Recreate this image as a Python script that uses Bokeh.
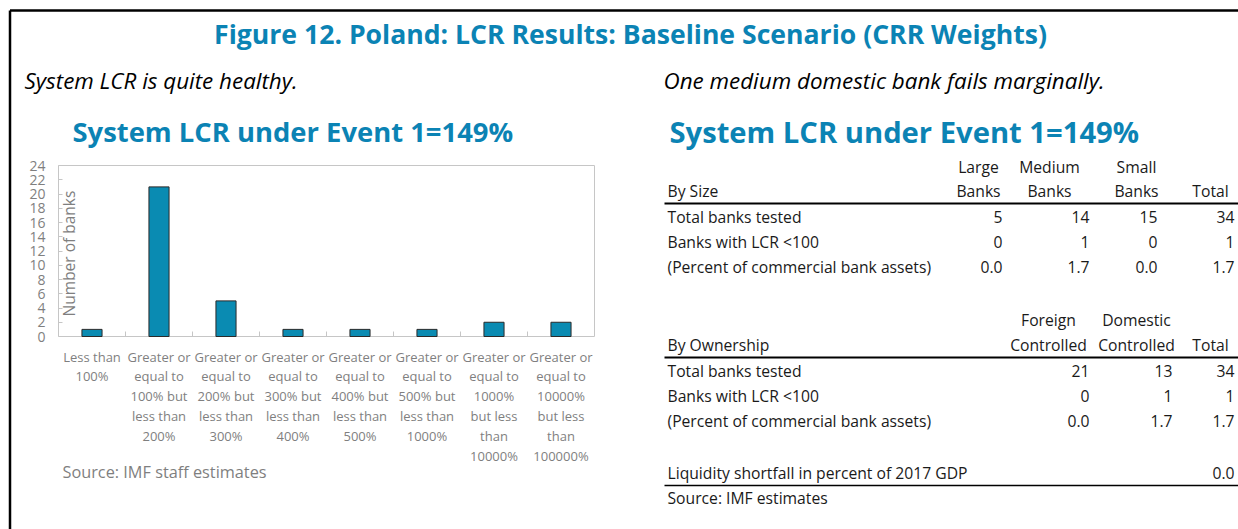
import math
from bokeh.plotting import figure
from bokeh.models import Range1d, LinearAxis, FixedTicker
from bokeh.core.properties import value
from bokeh.embed import file_html
from bokeh.resources import INLINE

# ---------------- data ----------------
categories = [
    "Less than\n100%",
    "Greater or\nequal to\n100% but\nless than\n200%",
    "Greater or\nequal to\n200% but\nless than\n300%",
    "Greater or\nequal to\n300% but\nless than\n400%",
    "Greater or\nequal to\n400% but\nless than\n500%",
    "Greater or\nequal to\n500% but\nless than\n1000%",
    "Greater or\nequal to\n1000%\nbut less\nthan\n10000%",
    "Greater or\nequal to\n10000%\nbut less\nthan\n100000%",
]
bank_counts = [1, 21, 5, 1, 1, 1, 2, 2]
y_ticks = [0, 2, 4, 6, 8, 10, 12, 14, 16, 18, 20, 22, 24]

size_header_top = ["Large", "Medium", "Small", ""]
size_header_bottom = ["Banks", "Banks", "Banks", "Total"]
row_labels = ["Total banks tested", "Banks with LCR <100", "(Percent of commercial bank assets)"]
size_tested = [5, 14, 15, 34]
size_failing = [0, 1, 0, 1]
size_assets_pct = [0.0, 1.7, 0.0, 1.7]

own_header_top = ["Foreign", "Domestic", ""]
own_header_bottom = ["Controlled", "Controlled", "Total"]
own_tested = [21, 13, 34]
own_failing = [0, 1, 1]
own_assets_pct = [0.0, 1.7, 1.7]

shortfall_label = "Liquidity shortfall in percent of 2017 GDP"
shortfall_pct_gdp = 0.0

main_title = "Figure 12. Poland: LCR Results: Baseline Scenario (CRR Weights)"
left_sub = "System LCR is quite healthy."
right_sub = "One medium domestic bank fails marginally."
chart_title = "System LCR under Event 1=149%"

# ---------------- layout (canvas pixels) ----------------
W, H = 1238, 529
BLUE = "#0b83b4"
GRAY = "#7f7f7f"
BLACK = "#1a1a1a"
FONT = "Open Sans"

# bar-chart plot area in canvas pixels
PA_LEFT, PA_RIGHT = 58, 594
PA_TOP, PA_BOTTOM = 165, 336

n = len(categories)
x_lo, x_hi = 0.5, n + 0.5
ppx = (PA_RIGHT - PA_LEFT) / (x_hi - x_lo)
cat_start = x_lo - PA_LEFT / ppx
cat_end = x_hi + (W - PA_RIGHT) / ppx

y_lo, y_hi = y_ticks[0], y_ticks[-1]
ppy = (PA_BOTTOM - PA_TOP) / (y_hi - y_lo)
bar_start = y_lo - (H - PA_BOTTOM) / ppy
bar_end = y_hi + PA_TOP / ppy

p = figure(width=W, height=H, x_range=Range1d(0, W), y_range=Range1d(H, 0),
           output_backend="svg", toolbar_location=None,
           x_axis_location=None, y_axis_location=None, min_border=0)
p.outline_line_color = None
p.xgrid.visible = False
p.ygrid.visible = False
p.background_fill_color = "white"
p.border_fill_color = "white"
p.extra_x_ranges = {"cats": Range1d(cat_start, cat_end)}
p.extra_y_ranges = {"bars": Range1d(bar_start, bar_end)}


def txt(x, y, s, size, color=BLACK, align="left", style="normal",
        baseline="middle", angle=0.0):
    p.text(x=[x], y=[y], text=[s], text_font=value(FONT), text_font_size=size,
           text_color=color, text_align=align, text_baseline=baseline,
           text_font_style=style, angle=angle)


# outer frame (top and left edges)
p.segment(x0=[9.5, 9.5], y0=[10, 10], x1=[W, 9.5], y1=[10, H], line_color="black", line_width=2.5)

# titles
txt(630, 33, main_title, "26.6px", BLUE, align="center", style="bold")
txt(24, 80, left_sub, "22.4px", "black", style="italic")
txt(663, 80, right_sub, "22.4px", "black", style="italic")
txt(72, 131, chart_title, "27.4px", BLUE, style="bold")
txt(669, 131, chart_title, "29.2px", BLUE, style="bold")

# ---------------- bar chart ----------------
positions = list(range(1, n + 1))
p.quad(left=[x_lo], right=[x_hi], bottom=[y_lo], top=[y_hi],
       x_range_name="cats", y_range_name="bars",
       fill_color=None, line_color="#c6c6c6", line_width=1)
p.vbar(x=positions, top=bank_counts, bottom=0, width=0.3,
       x_range_name="cats", y_range_name="bars",
       fill_color="#0a8bb2", line_color="#2a2a2a", line_width=1)

yaxis = LinearAxis(y_range_name="bars", fixed_location=PA_LEFT,
                   ticker=FixedTicker(ticks=y_ticks), bounds=(y_lo, y_hi))
yaxis.axis_line_color = None
yaxis.major_tick_in = 4
yaxis.major_tick_out = 0
yaxis.major_tick_line_color = "#c6c6c6"
yaxis.minor_tick_line_color = None
yaxis.major_label_standoff = 13
yaxis.major_label_text_font = FONT
yaxis.major_label_text_font_size = "14px"
yaxis.major_label_text_color = GRAY
p.add_layout(yaxis, "left")

xaxis = LinearAxis(x_range_name="cats", fixed_location=PA_BOTTOM,
                   ticker=FixedTicker(ticks=positions,
                                      minor_ticks=[i + 0.5 for i in positions[:-1]]),
                   bounds=(x_lo, x_hi))
xaxis.major_label_overrides = {pos: lab for pos, lab in zip(positions, categories)}
xaxis.axis_line_color = None
xaxis.major_tick_in = 0
xaxis.major_tick_out = 0
xaxis.minor_tick_in = 5
xaxis.minor_tick_out = 0
xaxis.minor_tick_line_color = "#c6c6c6"
xaxis.major_label_standoff = 11
xaxis.major_label_text_font = FONT
xaxis.major_label_text_font_size = "13px"
xaxis.major_label_text_color = GRAY
xaxis.major_label_text_line_height = 1.1
p.add_layout(xaxis, "below")

txt(68, 253, "Number of banks", "15.5px", GRAY, align="center", angle=math.pi / 2)
txt(62, 471, "Source: IMF staff estimates", "16.3px", GRAY)

# ---------------- table ----------------
TS = "15.7px"
LX = 667
RULE_X0 = 664
size_right = [1002, 1089, 1157, 1234]
size_center = [978, 1049, 1136, 1210]
own_right = [1089, 1172, 1234]
own_center = [1048, 1136, 1210]


def table_block(y_h1, y_h2, y_rule, y_rows, title, tops, bottoms, centers, rights, rows):
    for c, t in zip(centers, tops):
        if t:
            txt(c, y_h1, t, TS, BLACK, align="center")
    txt(LX, y_h2, title, TS, BLACK)
    for c, b in zip(centers, bottoms):
        txt(c, y_h2, b, TS, BLACK, align="center")
    p.segment(x0=[RULE_X0], y0=[y_rule], x1=[W], y1=[y_rule], line_color="black", line_width=2)
    for yr, lab, vals in zip(y_rows, row_labels, rows):
        txt(LX, yr, lab, TS, BLACK)
        for r, v in zip(rights, vals):
            txt(r, yr, v, TS, BLACK, align="right")


size_rows = [[str(v) for v in size_tested], [str(v) for v in size_failing],
             [f"{v:.1f}" for v in size_assets_pct]]
own_rows = [[str(v) for v in own_tested], [str(v) for v in own_failing],
            [f"{v:.1f}" for v in own_assets_pct]]

table_block(166, 190, 203, [216, 241, 266], "By Size",
            size_header_top, size_header_bottom, size_center, size_right, size_rows)
table_block(319, 344, 357, [370, 395, 420], "By Ownership",
            own_header_top, own_header_bottom, own_center, own_right, own_rows)

txt(LX, 472, shortfall_label, TS, BLACK)
txt(1234, 472, f"{shortfall_pct_gdp:.1f}", TS, BLACK, align="right")
p.segment(x0=[RULE_X0], y0=[485], x1=[W], y1=[485], line_color="black", line_width=1.5)
txt(LX, 497, "Source: IMF estimates", TS, BLACK)

open("out.html", "w").write(file_html(p, INLINE))
